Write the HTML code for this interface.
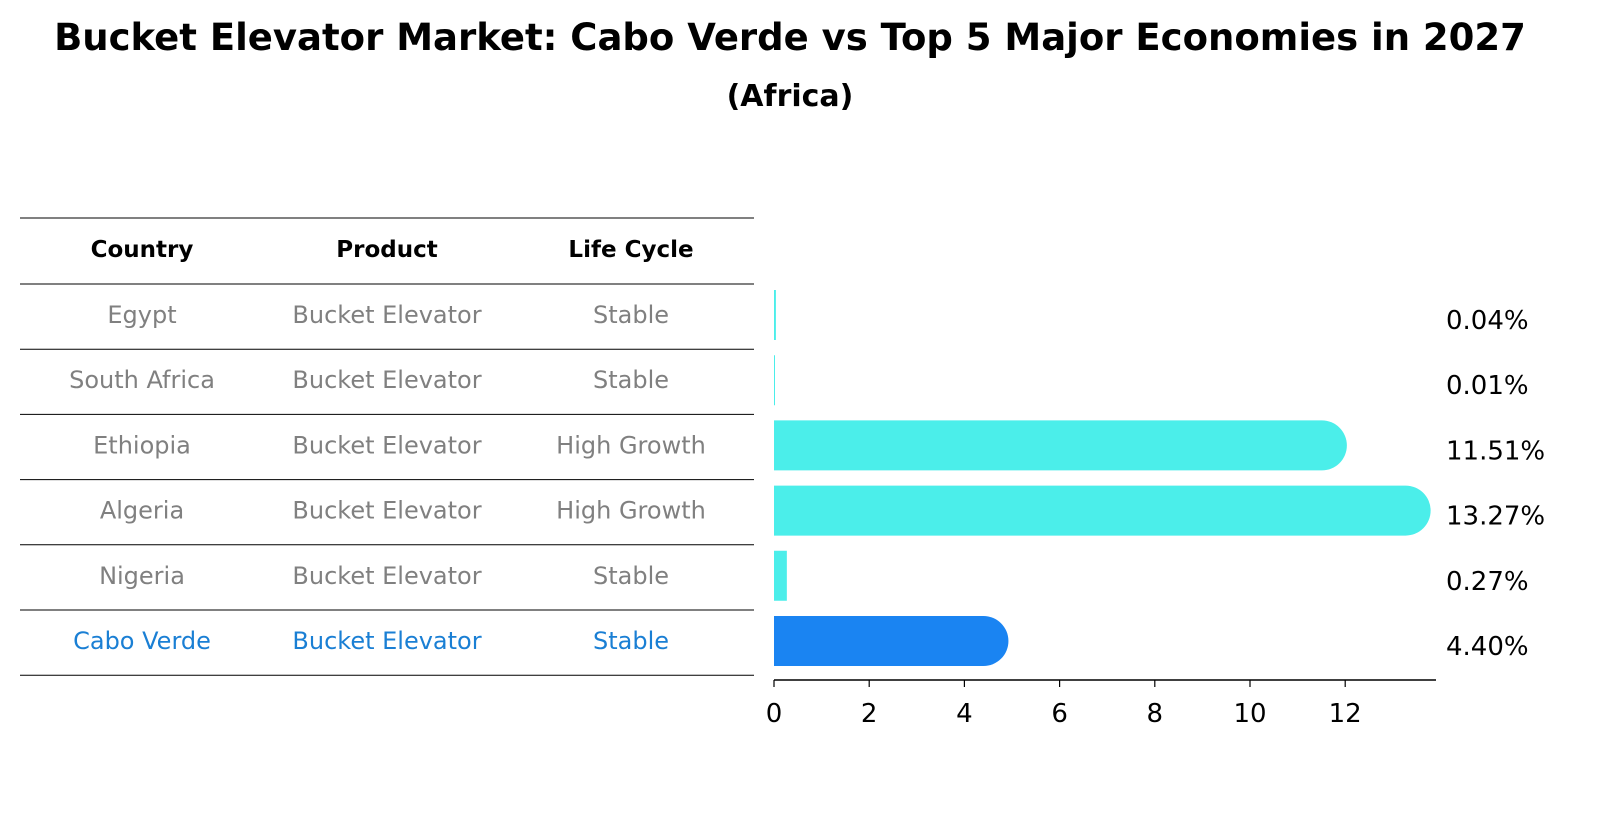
<!DOCTYPE html>
<html><head><meta charset="utf-8"><style>
body{margin:0;background:#fff;font-family:"Liberation Sans","DejaVu Sans",sans-serif;}
</style></head><body>
<svg width="1604" height="823" xmlns="http://www.w3.org/2000/svg" font-family="DejaVu Sans, Liberation Sans, sans-serif">
<text x="790" y="50" text-anchor="middle" font-size="37" font-weight="bold">Bucket Elevator Market: Cabo Verde vs Top 5 Major Economies in 2027</text>
<text x="790" y="106" text-anchor="middle" font-size="30" font-weight="bold">(Africa)</text>
<g id="table"></g>
<g id="bars"></g>
</svg>
<script>
const countries=["Egypt","South Africa","Ethiopia","Algeria","Nigeria","Cabo Verde"];
const products=["Bucket Elevator","Bucket Elevator","Bucket Elevator","Bucket Elevator","Bucket Elevator","Bucket Elevator"];
const lifecycle=["Stable","Stable","High Growth","High Growth","Stable","Stable"];
const values=[0.04,0.01,11.51,13.27,0.27,4.40];
const xTicks=[0,2,4,6,8,10,12];
const NS="http://www.w3.org/2000/svg";
function mk(tag,attrs,parent,txt){const e=document.createElementNS(NS,tag);for(const k in attrs)e.setAttribute(k,attrs[k]);if(txt!==undefined)e.textContent=txt;parent.appendChild(e);return e;}
const tbl=document.getElementById('table'),bars=document.getElementById('bars');
const rowY=i=>315+i*65.2;
const xS=v=>774+v*47.6;
const colX=[142,387,631];
const lineYs=[218,284];
countries.forEach((c,i)=>lineYs.push(284+(i+1)*65.2));
lineYs.forEach((y,i)=>{const l=mk('line',{x1:20,x2:754,y1:y,y2:y,stroke:'#000','stroke-width':1},tbl);

});
["Country","Product","Life Cycle"].forEach((h,j)=>{const t=mk('text',{x:colX[j],y:257,'text-anchor':'middle','font-size':23,'font-weight':'bold'},tbl,h);

});
countries.forEach((c,i)=>{
 const last=i===countries.length-1;const col=last?'#1a7fd4':'#808080';
 [c,products[i],lifecycle[i]].forEach((v,j)=>{const t=mk('text',{x:colX[j],y:rowY(i)+8,'text-anchor':'middle','font-size':24,fill:col},tbl,v);
 
 });
 const x1=xS(values[i]);const h=50,y=rowY(i)-25;const w=x1-774;
 const color=last?'#1a84f2':'#4beeea';
 let d;
 if(w>h){d=`M774 ${y} H${x1} A25 25 0 0 1 ${x1} ${y+h} H774 Z`;}
 else{d=`M774 ${y} H${Math.max(x1,775)} V${y+h} H774 Z`;}
 const p=mk('path',{d:d,fill:color},bars);
 
 
 const t=mk('text',{x:1446,y:rowY(i)+14,'font-size':26},bars,values[i].toFixed(2)+'%');
 
 
});
const ax=mk('line',{x1:774,x2:1436,y1:680,y2:680,stroke:'#000','stroke-width':1.5},bars);


xTicks.forEach(v=>{mk('line',{x1:xS(v),x2:xS(v),y1:680,y2:687,stroke:'#000','stroke-width':1.2},bars);
 const t=mk('text',{x:xS(v),y:722,'text-anchor':'middle','font-size':26},bars,v);
 
 });
</script>
</body></html>
